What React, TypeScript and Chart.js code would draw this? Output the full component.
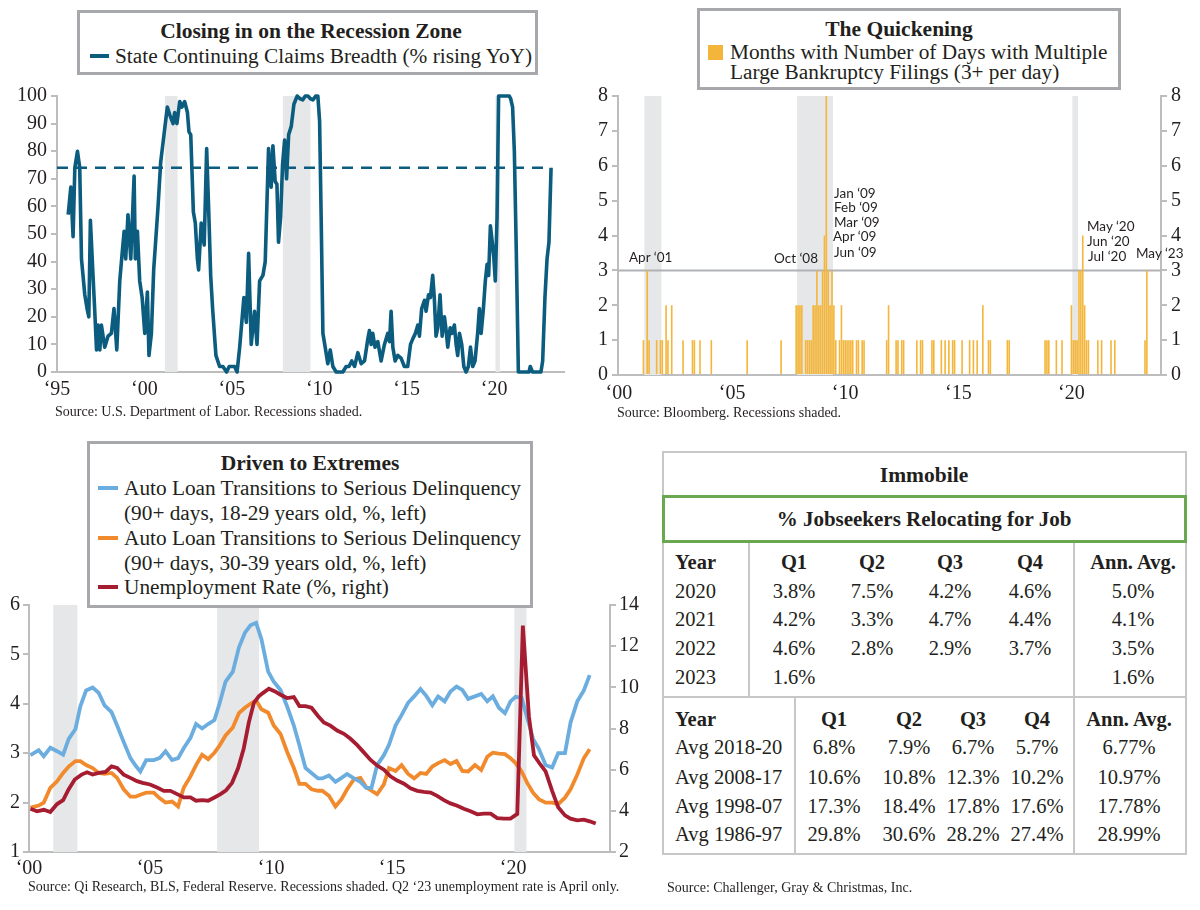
import React, { useEffect, useRef } from "react";
import { Chart, registerables } from "chart.js";
Chart.register(...registerables);

const SERIF = '"Liberation Serif", "Times New Roman", serif';
const SANS = 'Lato, "Open Sans", sans-serif';
const INK = "#231f20";
const AXIS = "#bdbdbd";
const SHADE = "#e6e7e8";

// ---------- Chart 1: State continuing claims breadth ----------
const claimsYears = [
  1995.64, 1995.79, 1995.92, 1996.02, 1996.17, 1996.3, 1996.4, 1996.59, 1996.72, 1996.82, 1996.91,
  1997.06, 1997.16, 1997.26, 1997.35, 1997.45, 1997.54, 1997.73, 1997.92, 1998.11, 1998.26, 1998.42,
  1998.59, 1998.74, 1998.84, 1998.93, 1999.06, 1999.22, 1999.41, 1999.48, 1999.6, 1999.73, 1999.87,
  2000.02, 2000.17, 2000.26, 2000.4, 2000.53, 2000.65, 2000.78, 2000.93, 2001.12, 2001.31, 2001.46,
  2001.64, 2001.73, 2001.86, 2002.02, 2002.15, 2002.3, 2002.46, 2002.55, 2002.65, 2002.72, 2002.8,
  2002.91, 2003.03, 2003.1, 2003.25, 2003.42, 2003.56, 2003.68, 2003.79, 2003.9, 2004.09, 2004.3,
  2004.49, 2004.7, 2004.85, 2005.16, 2005.3, 2005.45, 2005.69, 2005.83, 2005.96, 2006.11, 2006.3,
  2006.44, 2006.59, 2006.78, 2006.91, 2007.1, 2007.25, 2007.35, 2007.48, 2007.58, 2007.67, 2007.79,
  2007.9, 2008.02, 2008.13, 2008.25, 2008.4, 2008.55, 2008.74, 2008.9, 2009.06, 2009.2, 2009.35,
  2009.5, 2009.64, 2009.8, 2009.92, 2010.02, 2010.11, 2010.21, 2010.34, 2010.49, 2010.63, 2010.78,
  2010.97, 2011.35, 2011.54, 2011.7, 2011.86, 2012.02, 2012.21, 2012.4, 2012.59, 2012.78, 2012.87,
  2012.97, 2013.06, 2013.19, 2013.35, 2013.54, 2013.73, 2013.92, 2014.02, 2014.11, 2014.21, 2014.34,
  2014.49, 2014.68, 2014.87, 2015.06, 2015.22, 2015.35, 2015.5, 2015.64, 2015.73, 2015.86, 2016.02,
  2016.11, 2016.25, 2016.36, 2016.49, 2016.58, 2016.68, 2016.78, 2016.91, 2017.03, 2017.16, 2017.26,
  2017.35, 2017.49, 2017.6, 2017.73, 2017.83, 2017.92, 2018.02, 2018.15, 2018.27, 2018.4, 2018.53,
  2018.65, 2018.78, 2018.91, 2019.06, 2019.16, 2019.26, 2019.39, 2019.5, 2019.6, 2019.69, 2019.79,
  2019.88, 2019.98, 2020.07, 2020.17, 2020.26, 2020.87, 2020.95, 2021.06, 2021.16, 2021.27, 2021.39,
  2022.0, 2022.07, 2022.2, 2022.68, 2022.78, 2022.91, 2023.03, 2023.14, 2023.26,
];
const claimsValues = [
  57, 67, 49, 74, 80, 74, 41, 28, 23, 20, 55,
  35, 22, 8, 17, 8, 17, 9, 13, 14, 23, 8,
  33, 44, 51, 41, 57, 41, 71, 41, 51, 33, 27,
  14, 29, 6, 14, 37, 48, 60, 76, 86, 96, 93,
  90, 94, 90, 98, 96, 98, 94, 87, 86, 73, 58,
  54, 41, 37, 54, 46, 81, 58, 35, 23, 6, 2,
  2, 0, 2, 2, 0, 9, 27, 18, 43, 10, 22,
  10, 33, 35, 40, 81, 67, 82, 69, 68, 47, 56,
  75, 84, 70, 86, 89, 97, 100, 99, 98.6, 100, 100,
  99, 98.6, 100, 100, 91, 56, 14, 9, 3, 8, 2,
  0, 0, 2, 2, 4, 2, 7, 3, 4, 12, 15,
  10, 14, 9, 11, 4, 10, 14, 11, 22, 9, 4,
  6, 5, 2, 2, 10, 12, 14, 17, 13, 23, 26,
  22, 28, 27, 35, 27, 13, 16, 28, 13, 20, 15,
  9, 16, 14, 17, 10, 6, 14, 10, 2, 0, 2,
  9, 2, 4, 14, 23, 14, 23, 33, 39, 35, 53,
  48, 42, 33, 56, 100, 100, 99, 96, 80, 44, 0,
  0, 2, 0, 0, 4, 27, 41, 47, 74,
];
const claimsThreshold = 74;
const claimsThresholdSpan = [1995, 2023.26];
const claimsRecessions = [[2001.17, 2001.9], [2007.92, 2009.5], [2020.08, 2020.33]];
const claimsTicks = [1995, 2000, 2005, 2010, 2015, 2020];

// ---------- Chart 2: Months with multiple large bankruptcy filings ----------
const filingMonths = [
  "2001-02", "2001-04", "2001-05", "2001-09", "2001-11", "2001-12", "2002-02", "2002-03", "2002-05",
  "2002-11", "2003-04", "2003-05", "2003-08", "2004-02", "2005-09", "2007-03", "2007-11", "2007-12",
  "2008-01", "2008-02", "2008-04", "2008-05", "2008-06", "2008-07", "2008-08", "2008-09", "2008-10",
  "2008-11", "2008-12", "2009-01", "2009-02", "2009-03", "2009-04", "2009-05", "2009-06", "2009-07",
  "2009-08", "2009-10", "2009-11", "2009-12", "2010-01", "2010-02", "2010-03", "2010-04", "2010-05",
  "2010-07", "2010-08", "2010-10", "2010-11", "2011-11", "2011-12", "2012-04", "2012-05", "2012-07",
  "2012-08", "2013-03", "2013-05", "2013-06", "2013-11", "2013-12", "2014-04", "2014-06", "2014-08",
  "2014-10", "2014-11", "2015-03", "2015-07", "2015-09", "2015-11", "2016-02", "2016-05", "2016-06",
  "2017-03", "2017-04", "2018-11", "2018-12", "2019-01", "2019-05", "2019-08", "2020-01", "2020-02",
  "2020-03", "2020-04", "2020-05", "2020-06", "2020-07", "2020-08", "2020-09", "2020-10", "2021-03",
  "2021-05", "2021-10", "2021-12", "2023-04", "2023-05",
];
const filingCounts = [
  1, 3, 1, 1, 1, 1, 2, 1, 2,
  1, 1, 1, 1, 1, 1, 1, 2, 2,
  2, 2, 1, 1, 1, 1, 2, 2, 3,
  2, 2, 3, 4, 8, 3, 2, 3, 2,
  1, 1, 2, 1, 1, 1, 1, 1, 1,
  1, 1, 1, 1, 1, 2, 1, 1, 1,
  1, 1, 1, 1, 1, 1, 1, 1, 1,
  1, 1, 1, 1, 1, 1, 2, 1, 1,
  1, 1, 1, 1, 1, 1, 1, 2, 1,
  1, 1, 3, 3, 4, 2, 1, 1, 1,
  1, 1, 1, 1, 3,
];
const filingThreshold = 3;
const filingRecessions = [["2001-03", "2001-11"], ["2007-12", "2009-06"], ["2020-02", "2020-04"]];
const filingTickYears = [2000, 2005, 2010, 2015, 2020];
const filingFirstYear = 2000;
const filingLastYear = 2023;

// ---------- Chart 3: Auto loan transitions & unemployment ----------
const autoQuarterX = [
  2000.06, 2000.4, 2000.61, 2000.88, 2001.16, 2001.41, 2001.64, 2001.92, 2002.12, 2002.36,
  2002.63, 2002.88, 2003.12, 2003.41, 2003.64, 2003.91, 2004.19, 2004.4, 2004.6, 2004.84,
  2005.15, 2005.39, 2005.64, 2005.91, 2006.16, 2006.39, 2006.67, 2006.9, 2007.15, 2007.4,
  2007.66, 2007.88, 2008.12, 2008.42, 2008.67, 2008.92, 2009.15, 2009.38, 2009.6, 2009.88,
  2010.11, 2010.39, 2010.66, 2010.94, 2011.17, 2011.42, 2011.67, 2011.94,
  2012.11, 2012.39, 2012.66, 2012.91, 2013.14, 2013.42, 2013.69, 2013.93, 2014.15, 2014.38,
  2014.66, 2014.87, 2015.14, 2015.39, 2015.66, 2015.91, 2016.17, 2016.41, 2016.66, 2016.9,
  2017.17, 2017.41, 2017.66, 2017.9, 2018.14, 2018.42, 2018.68, 2018.93, 2019.16, 2019.41,
  2019.66, 2019.89, 2020.1, 2020.35, 2020.58, 2020.82, 2021.06, 2021.34, 2021.61, 2021.86,
  2022.14, 2022.37, 2022.65, 2022.92, 2023.16,
];
const young1829 = [
  2.96, 3.06, 2.94, 3.11, 3.04, 2.97, 3.29, 3.49, 3.95, 4.27,
  4.33, 4.22, 3.97, 3.83, 3.56, 3.23, 2.9, 2.75, 2.63, 2.86,
  2.86, 2.9, 3.04, 2.86, 2.9, 3.1, 3.31, 3.59, 3.5, 3.59,
  3.67, 4.02, 4.45, 4.65, 5.14, 5.44, 5.59, 5.64, 5.31, 4.65,
  4.45, 4.28, 3.95, 3.56, 3.16, 2.7, 2.6, 2.49,
  2.49, 2.55, 2.42, 2.5, 2.58, 2.49, 2.42, 2.3, 2.3, 2.76,
  2.96, 3.17, 3.56, 3.77, 4.02, 4.15, 4.3, 4.16, 3.97, 4.15,
  4.05, 4.25, 4.35, 4.28, 4.1, 4.15, 4.2, 4.05, 4.15, 3.92,
  3.81, 4.05, 4.14, 4.12, 3.72, 3.29, 3.09, 2.76, 2.71, 3.0,
  3.0, 3.62, 4.05, 4.27, 4.58,
];
const adult3039 = [
  1.9, 1.94, 2.0, 2.3, 2.43, 2.6, 2.73, 2.84, 2.84, 2.76,
  2.7, 2.6, 2.58, 2.6, 2.5, 2.27, 2.12, 2.12, 2.16, 2.2,
  2.2, 2.09, 2.0, 2.02, 1.92, 2.3, 2.53, 2.76, 2.97, 2.88,
  3.01, 3.16, 3.36, 3.52, 3.81, 3.92, 4.0, 4.07, 3.89, 3.82,
  3.56, 3.39, 3.03, 2.7, 2.38, 2.38, 2.27, 2.24,
  2.24, 2.14, 1.92, 2.07, 2.27, 2.47, 2.5, 2.31, 2.24, 2.17,
  2.37, 2.7, 2.64, 2.76, 2.58, 2.49, 2.6, 2.58, 2.73, 2.8,
  2.86, 2.78, 2.84, 2.64, 2.63, 2.76, 2.66, 2.93, 3.01, 2.99,
  2.98, 2.9, 2.8, 2.63, 2.4, 2.2, 2.07, 2.0, 2.0, 1.97,
  2.1, 2.27, 2.57, 2.9, 3.08,
];
const unempX = [
  2000.06, 2000.33, 2000.61, 2000.88, 2001.16, 2001.41, 2001.64, 2001.89, 2002.17, 2002.4,
  2002.63, 2002.88, 2003.16, 2003.41, 2003.64, 2003.91, 2004.19, 2004.46, 2004.69, 2005.0,
  2005.29, 2005.57, 2005.84, 2006.12, 2006.39, 2006.67, 2006.9, 2007.15, 2007.4, 2007.66,
  2007.91, 2008.14, 2008.39, 2008.64, 2008.87, 2009.08, 2009.29, 2009.49, 2009.66, 2009.91,
  2010.16, 2010.39, 2010.66, 2010.94, 2011.17, 2011.42, 2011.67, 2011.94,
  2012.18, 2012.45, 2012.73, 2013.01, 2013.28, 2013.56, 2013.83, 2014.11, 2014.38, 2014.66,
  2014.93, 2015.21, 2015.49, 2015.76, 2016.04, 2016.31, 2016.59, 2016.86, 2017.14, 2017.41,
  2017.69, 2017.96, 2018.24, 2018.52, 2018.79, 2019.07, 2019.34, 2019.62, 2019.89, 2020.17,
  2020.4, 2020.65, 2020.86, 2021.13, 2021.34, 2021.61, 2021.86, 2022.14, 2022.37, 2022.65,
  2022.92, 2023.16, 2023.41,
];
const unempRate = [
  4.1, 3.98, 4.05, 3.94, 4.33, 4.52, 5.05, 5.52, 5.76, 5.87,
  5.76, 5.84, 5.89, 6.16, 6.08, 5.76, 5.6, 5.44, 5.36, 5.28,
  5.13, 4.97, 4.97, 4.81, 4.65, 4.65, 4.49, 4.52, 4.49, 4.65,
  4.81, 5.0, 5.36, 6.08, 7.03, 8.29, 9.25, 9.56, 9.72, 9.93,
  9.8, 9.64, 9.48, 9.53, 9.09, 9.09, 9.01, 8.61,
  8.29, 8.14, 7.9, 7.74, 7.5, 7.19, 6.84, 6.47, 6.2, 6.0,
  5.68, 5.47, 5.32, 5.09, 4.97, 4.92, 4.89, 4.73, 4.52, 4.36,
  4.25, 4.1, 3.98, 3.83, 3.86, 3.86, 3.65, 3.62, 3.62, 3.85,
  13.0, 8.6, 6.7, 6.24, 5.92, 4.97, 4.17, 3.78, 3.62, 3.54,
  3.57, 3.49, 3.38,
];
const autoRecessions = [[2001.0, 2002.0], [2007.77, 2009.5], [2020.05, 2020.55]];
const autoTicks = [2000, 2005, 2010, 2015, 2020];

// ---------- Table: % jobseekers relocating ----------
const recentYears = ["2020", "2021", "2022", "2023"];
const recentQ1 = [3.8, 4.2, 4.6, 1.6];
const recentQ2 = [7.5, 3.3, 2.8, null];
const recentQ3 = [4.2, 4.7, 2.9, null];
const recentQ4 = [4.6, 4.4, 3.7, null];
const recentAnn = [5.0, 4.1, 3.5, 1.6];
const histPeriods = ["Avg 2018-20", "Avg 2008-17", "Avg 1998-07", "Avg 1986-97"];
const histQ1 = [6.8, 10.6, 17.3, 29.8];
const histQ2 = [7.9, 10.8, 18.4, 30.6];
const histQ3 = [6.7, 12.3, 17.8, 28.2];
const histQ4 = [5.7, 10.2, 17.6, 27.4];
const histAnn = [6.77, 10.97, 17.78, 28.99];

// ---------- helpers ----------
const shadePlugin: any = {
  id: "recessionShade",
  beforeDatasetsDraw(chart: any, _a: any, opts: any) {
    const { ctx, chartArea, scales } = chart;
    const xs = scales.x;
    ctx.save();
    ctx.fillStyle = opts.color || SHADE;
    (opts.ranges || []).forEach((r: number[]) => {
      const x0 = xs.getPixelForValue(r[0]);
      const x1 = xs.getPixelForValue(r[1]);
      ctx.fillRect(x0, chartArea.top, x1 - x0, chartArea.bottom - chartArea.top);
    });
    if (opts.hLine != null) {
      const y = scales.y.getPixelForValue(opts.hLine);
      ctx.strokeStyle = opts.hLineColor || "#a7a9ac";
      ctx.lineWidth = 2;
      ctx.beginPath();
      ctx.moveTo(chartArea.left, y);
      ctx.lineTo(chartArea.right, y);
      ctx.stroke();
    }
    ctx.restore();
  },
};

const tickFont = { family: SERIF, size: 20 };
const yearLabel = (v: any) => "\u2018" + String(v).slice(2);

function ChartCanvas({ left, top, width, height, build }: any) {
  const ref = useRef<HTMLCanvasElement | null>(null);
  useEffect(() => {
    if (!ref.current) return;
    const chart = new Chart(ref.current, build());
    return () => chart.destroy();
  }, []);
  return (
    <canvas
      ref={ref}
      width={width}
      height={height}
      style={{ position: "absolute", left, top, width, height }}
    />
  );
}

function buildClaims(): any {
  return {
    type: "line",
    data: {
      datasets: [
        {
          data: claimsYears.map((x, i) => ({ x, y: claimsValues[i] })),
          borderColor: "#0b5c7e",
          borderWidth: 3.6,
          pointRadius: 0,
          clip: 6,
          borderJoinStyle: "round",
        },
        {
          data: claimsThresholdSpan.map((x) => ({ x, y: claimsThreshold })),
          borderColor: "#0b5c7e",
          borderWidth: 2.4,
          borderDash: [11, 8],
          pointRadius: 0,
        },
      ],
    },
    plugins: [shadePlugin],
    options: {
      responsive: false,
      animation: false,
      events: [],
      layout: { padding: { top: 9, right: 36, left: 0, bottom: 0 } },
      plugins: {
        legend: { display: false },
        tooltip: { enabled: false },
        recessionShade: { ranges: claimsRecessions },
      },
      scales: {
        x: {
          type: "linear",
          min: 1995,
          max: 2024,
          afterBuildTicks: (s: any) => {
            s.ticks = claimsTicks.map((v) => ({ value: v }));
          },
          afterFit: (s: any) => {
            s.height = 48;
          },
          ticks: { callback: yearLabel, font: tickFont, color: INK, padding: 6, maxRotation: 0 },
          grid: { drawOnChartArea: false, drawTicks: false, color: AXIS },
          border: { color: AXIS, width: 2 },
        },
        y: {
          min: 0,
          max: 100,
          afterFit: (s: any) => {
            s.width = 57;
          },
          ticks: { stepSize: 10, font: tickFont, color: INK, padding: 4 },
          grid: { drawOnChartArea: false, tickLength: 6, color: AXIS, lineWidth: 2 },
          border: { color: AXIS, width: 2 },
        },
      },
    },
  };
}

function monthList(): string[] {
  const out: string[] = [];
  for (let y = filingFirstYear; y <= filingLastYear; y++) {
    for (let m = 1; m <= 12; m++) out.push(y + "-" + (m < 10 ? "0" + m : "" + m));
  }
  return out;
}

function buildFilings(): any {
  const months = monthList();
  const values = months.map((m) => {
    const k = filingMonths.indexOf(m);
    return k >= 0 ? filingCounts[k] : 0;
  });
  const ranges = filingRecessions.map((r) => [months.indexOf(r[0]) - 0.5, months.indexOf(r[1]) + 0.5]);
  const yCommon = {
    min: 0,
    max: 8,
    ticks: { stepSize: 1, font: tickFont, color: INK, padding: 4 },
    grid: { drawOnChartArea: false, tickLength: 6, color: AXIS, lineWidth: 2 },
    border: { color: AXIS, width: 2 },
  };
  return {
    type: "bar",
    data: {
      labels: months,
      datasets: [
        {
          data: values,
          backgroundColor: "#f4b63a",
          barPercentage: 1,
          categoryPercentage: 0.86,
        },
      ],
    },
    plugins: [shadePlugin],
    options: {
      responsive: false,
      animation: false,
      events: [],
      layout: { padding: { top: 9, right: 0, left: 0, bottom: 0 } },
      plugins: {
        legend: { display: false },
        tooltip: { enabled: false },
        recessionShade: { ranges, hLine: filingThreshold, hLineColor: "#b0b2b5" },
      },
      scales: {
        x: {
          type: "category",
          afterFit: (s: any) => {
            s.height = 45;
          },
          ticks: {
            autoSkip: false,
            maxRotation: 0,
            minRotation: 0,
            font: tickFont,
            color: INK,
            padding: 7,
            callback: (_v: any, i: number) => {
              const parts = months[i].split("-");
              return parts[1] === "01" && filingTickYears.indexOf(+parts[0]) >= 0 ? yearLabel(parts[0]) : null;
            },
          },
          grid: { drawOnChartArea: false, drawTicks: false, color: AXIS },
          border: { color: AXIS, width: 2 },
        },
        y: {
          ...yCommon,
          position: "left",
          afterFit: (s: any) => {
            s.width = 38;
          },
        },
        y2: {
          ...yCommon,
          position: "right",
          afterFit: (s: any) => {
            s.width = 39;
          },
        },
      },
    },
  };
}

function buildAuto(): any {
  return {
    type: "line",
    data: {
      datasets: [
        {
          data: unempX.map((x, i) => ({ x, y: unempRate[i] })),
          yAxisID: "y1",
          borderColor: "#a61d32",
          borderWidth: 3.8,
          pointRadius: 0,
        },
        {
          data: autoQuarterX.map((x, i) => ({ x, y: young1829[i] })),
          yAxisID: "y",
          borderColor: "#6cade0",
          borderWidth: 3.8,
          pointRadius: 0,
        },
        {
          data: autoQuarterX.map((x, i) => ({ x, y: adult3039[i] })),
          yAxisID: "y",
          borderColor: "#f18a2c",
          borderWidth: 3.8,
          pointRadius: 0,
        },
      ],
    },
    plugins: [shadePlugin],
    options: {
      responsive: false,
      animation: false,
      events: [],
      layout: { padding: { top: 10, right: 0, left: 0, bottom: 0 } },
      plugins: {
        legend: { display: false },
        tooltip: { enabled: false },
        recessionShade: { ranges: autoRecessions },
      },
      scales: {
        x: {
          type: "linear",
          min: 2000,
          max: 2024,
          afterBuildTicks: (s: any) => {
            s.ticks = autoTicks.map((v) => ({ value: v }));
          },
          afterFit: (s: any) => {
            s.height = 28;
          },
          ticks: { callback: yearLabel, font: tickFont, color: INK, padding: 5, maxRotation: 0 },
          grid: { drawOnChartArea: false, drawTicks: false, color: AXIS },
          border: { color: AXIS, width: 2 },
        },
        y: {
          position: "left",
          min: 1,
          max: 6,
          afterFit: (s: any) => {
            s.width = 29;
          },
          ticks: { stepSize: 1, font: tickFont, color: INK, padding: 3 },
          grid: { drawOnChartArea: false, tickLength: 6, color: AXIS, lineWidth: 2 },
          border: { color: AXIS, width: 2 },
        },
        y1: {
          position: "right",
          min: 2,
          max: 14,
          afterFit: (s: any) => {
            s.width = 40;
          },
          ticks: { stepSize: 2, font: tickFont, color: INK, padding: 3 },
          grid: { drawOnChartArea: false, tickLength: 6, color: AXIS, lineWidth: 2 },
          border: { color: AXIS, width: 2 },
        },
      },
    },
  };
}

// ---------- HTML pieces ----------
const boxStyle = (left: number, top: number, width: number, height: number): any => ({
  position: "absolute",
  left,
  top,
  width,
  height,
  boxSizing: "border-box",
  border: "3px solid #a6a8ab",
  background: "#fff",
  fontFamily: SERIF,
  color: INK,
});

function Abs({ x, y, children, align = "left", style = {} }: any) {
  const tx = align === "center" ? "translate(-50%, -50%)" : align === "right" ? "translate(-100%, -50%)" : "translate(0, -50%)";
  return (
    <div style={{ position: "absolute", left: x, top: y, transform: tx, whiteSpace: "nowrap", ...style }}>
      {children}
    </div>
  );
}

const legendText = { fontSize: 21.3, fontFamily: SERIF, color: INK };
const boldTitle = { fontSize: 21.5, fontWeight: "bold", fontFamily: SERIF, color: INK };
const sourceStyle = { fontSize: 14, fontFamily: SERIF, color: INK };
const annStyle = { fontSize: 13.5, fontFamily: SANS, color: INK };

function fmt(v: number | null, d = 1) {
  return v == null ? "" : v.toFixed(d) + "%";
}

function JobTable() {
  const cell = { fontSize: 20.5, fontFamily: SERIF, color: INK };
  const head = { ...cell, fontWeight: "bold" };
  const gray = "#c6c7c9";
  const r1 = [591, 619, 648, 677];
  const r2 = [747, 777, 806, 834];
  const c1 = [794, 872, 950, 1030, 1133];
  const c2 = [834, 909, 973, 1037, 1129];
  const recentCols = [recentQ1, recentQ2, recentQ3, recentQ4];
  const histCols = [histQ1, histQ2, histQ3, histQ4];
  const line = (left: number, top: number, w: number, h: number, color = gray) => (
    <div style={{ position: "absolute", left, top, width: w, height: h, background: color }} />
  );
  return (
    <>
      <div style={{ position: "absolute", left: 662, top: 451, width: 525, height: 404, boxSizing: "border-box", border: `2px solid ${gray}` }} />
      <Abs x={924} y={475} align="center" style={{ ...head, fontSize: 21.5 }}>Immobile</Abs>
      <div style={{ position: "absolute", left: 662, top: 495, width: 525, height: 48, boxSizing: "border-box", border: "3px solid #6aa84f" }} />
      <Abs x={924} y={519} align="center" style={{ ...head, fontSize: 21 }}>% Jobseekers Relocating for Job</Abs>
      {line(748, 543, 2, 154)}
      {line(1073, 543, 2, 154)}
      {line(662, 696, 525, 2)}
      {line(794, 697, 2, 158)}
      {line(1073, 697, 2, 158)}
      <Abs x={675} y={562} style={head}>Year</Abs>
      {["Q1", "Q2", "Q3", "Q4", "Ann. Avg."].map((h, i) => (
        <Abs key={h} x={c1[i]} y={562} align="center" style={head}>{h}</Abs>
      ))}
      {recentYears.map((yr, r) => (
        <React.Fragment key={yr}>
          <Abs x={675} y={r1[r]} style={cell}>{yr}</Abs>
          {recentCols.map((col, c) => (
            <Abs key={c} x={c1[c]} y={r1[r]} align="center" style={cell}>{fmt(col[r])}</Abs>
          ))}
          <Abs x={c1[4]} y={r1[r]} align="center" style={cell}>{fmt(recentAnn[r])}</Abs>
        </React.Fragment>
      ))}
      <Abs x={675} y={719} style={head}>Year</Abs>
      {["Q1", "Q2", "Q3", "Q4", "Ann. Avg."].map((h, i) => (
        <Abs key={h} x={c2[i]} y={719} align="center" style={head}>{h}</Abs>
      ))}
      {histPeriods.map((p, r) => (
        <React.Fragment key={p}>
          <Abs x={675} y={r2[r]} style={cell}>{p}</Abs>
          {histCols.map((col, c) => (
            <Abs key={c} x={c2[c]} y={r2[r]} align="center" style={cell}>{fmt(col[r])}</Abs>
          ))}
          <Abs x={c2[4]} y={r2[r]} align="center" style={cell}>{fmt(histAnn[r], 2)}</Abs>
        </React.Fragment>
      ))}
      <Abs x={667} y={888} style={sourceStyle}>Source: Challenger, Gray &amp; Christmas, Inc.</Abs>
    </>
  );
}

export default function App() {
  return (
    <div style={{ position: "absolute", left: 0, top: 0, width: 1200, height: 910, background: "#fff", overflow: "hidden" }}>
      {/* Chart 1 */}
      <ChartCanvas left={0} top={80} width={600} height={340} build={buildClaims} />
      <div style={boxStyle(77, 10, 461, 65)}>
        <Abs x={231} y={18} align="center" style={boldTitle}>Closing in on the Recession Zone</Abs>
        <div style={{ position: "absolute", left: 10, top: 41, width: 19, height: 4, background: "#0b5c7e" }} />
        <Abs x={35} y={43} style={legendText}>State Continuing Claims Breadth (% rising YoY)</Abs>
      </div>
      <Abs x={55} y={412} style={sourceStyle}>Source: U.S. Department of Labor. Recessions shaded.</Abs>

      {/* Chart 2 */}
      <ChartCanvas left={580} top={80} width={620} height={340} build={buildFilings} />
      <div style={boxStyle(697, 8, 424, 82)}>
        <Abs x={199} y={18} align="center" style={boldTitle}>The Quickening</Abs>
        <div style={{ position: "absolute", left: 8, top: 34, width: 15, height: 15, background: "#f4b63a" }} />
        <Abs x={30} y={41} style={legendText}>Months with Number of Days with Multiple</Abs>
        <Abs x={30} y={61} style={legendText}>Large Bankruptcy Filings (3+ per day)</Abs>
      </div>
      <Abs x={629} y={257} style={annStyle}>Apr ‘01</Abs>
      <Abs x={774} y={258} style={annStyle}>Oct ‘08</Abs>
      <Abs x={834} y={193} style={annStyle}>Jan ‘09</Abs>
      <Abs x={834} y={207} style={annStyle}>Feb ‘09</Abs>
      <Abs x={834} y={222} style={annStyle}>Mar ‘09</Abs>
      <Abs x={833} y={236} style={annStyle}>Apr ‘09</Abs>
      <Abs x={834} y={252} style={annStyle}>Jun ‘09</Abs>
      <Abs x={1087} y={226} style={annStyle}>May ‘20</Abs>
      <Abs x={1087} y={241} style={annStyle}>Jun ‘20</Abs>
      <Abs x={1088} y={256} style={annStyle}>Jul ‘20</Abs>
      <Abs x={1136} y={253} style={annStyle}>May ‘23</Abs>
      <Abs x={617} y={413} style={sourceStyle}>Source: Bloomberg. Recessions shaded.</Abs>

      {/* Chart 3 */}
      <ChartCanvas left={0} top={590} width={650} height={290} build={buildAuto} />
      <div style={boxStyle(87, 441, 446, 167)}>
        <Abs x={220} y={19} align="center" style={boldTitle}>Driven to Extremes</Abs>
        <div style={{ position: "absolute", left: 8, top: 42, width: 20, height: 4, background: "#6cade0" }} />
        <Abs x={34} y={44} style={legendText}>Auto Loan Transitions to Serious Delinquency</Abs>
        <Abs x={34} y={69} style={legendText}>(90+ days, 18-29 years old, %, left)</Abs>
        <div style={{ position: "absolute", left: 8, top: 92, width: 20, height: 4, background: "#f18a2c" }} />
        <Abs x={34} y={94} style={legendText}>Auto Loan Transitions to Serious Delinquency</Abs>
        <Abs x={34} y={119} style={legendText}>(90+ days, 30-39 years old, %, left)</Abs>
        <div style={{ position: "absolute", left: 8, top: 141, width: 20, height: 4, background: "#a61d32" }} />
        <Abs x={34} y={143} style={legendText}>Unemployment Rate (%, right)</Abs>
      </div>
      <Abs x={28} y={887} style={sourceStyle}>
        Source: Qi Research, BLS, Federal Reserve. Recessions shaded. Q2 ‘23 unemployment rate is April only.
      </Abs>

      {/* Table */}
      <JobTable />
    </div>
  );
}
